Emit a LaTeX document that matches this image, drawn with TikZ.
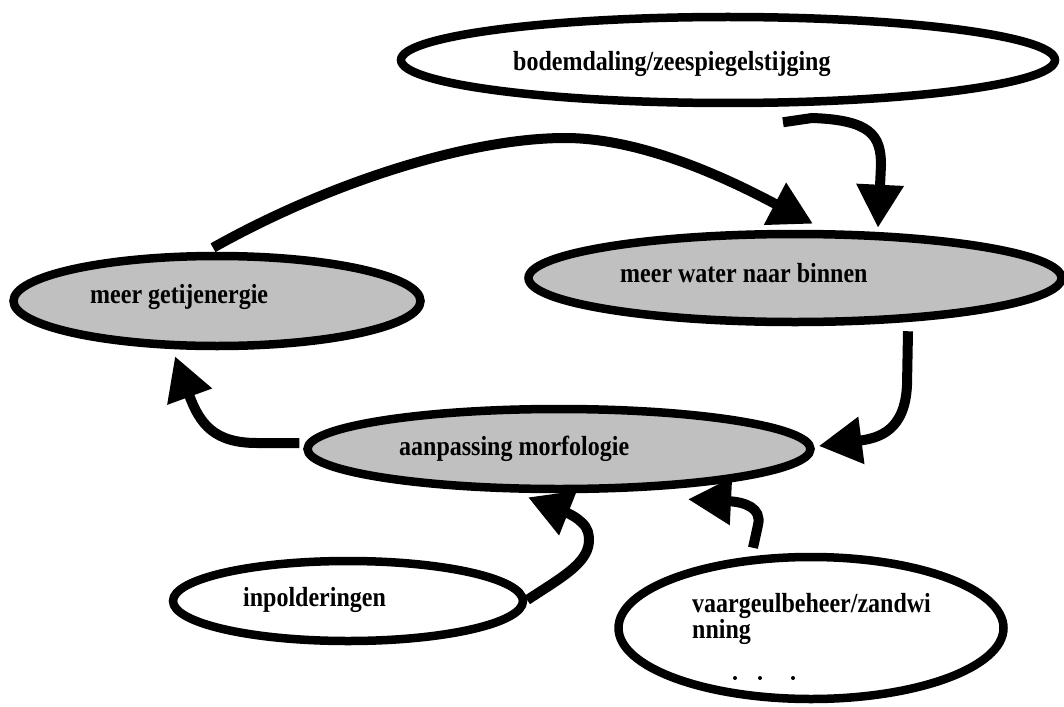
\documentclass[tikz,border=0pt]{standalone}
\usepackage{fontspec}
\setmainfont{Liberation Serif}
\usetikzlibrary{shapes.geometric,arrows.meta}
\definecolor{fillgray}{RGB}{192,192,192}
\newcommand{\stretchtxt}[1]{\scalebox{1}[1.15]{#1}}
\begin{document}
\begin{tikzpicture}[x=1pt,y=-1pt,
  wbox/.style={ellipse, draw, line width=8.5pt, inner sep=0pt, fill=white},
  gbox/.style={wbox, fill=fillgray},
  txt/.style={anchor=base west, inner sep=0pt, font=\bfseries\fontsize{24}{22.6}\selectfont},
  conn/.style={line width=10pt, -{Triangle[length=43pt,width=45pt]}}
]
\useasboundingbox (0,0) rectangle (1064,706);

\node[wbox, minimum width=654pt, minimum height=86pt] (bod) at (728,60) {};
\node[gbox, minimum width=533pt, minimum height=88pt] (water) at (795,278) {};
\node[gbox, minimum width=407pt, minimum height=90pt] (getij) at (217,301) {};
\node[gbox, minimum width=503pt, minimum height=80pt] (morf) at (559,449) {};
\node[wbox, minimum width=350pt, minimum height=80pt] (inpol) at (348,601) {};
\node[wbox, minimum width=385pt, minimum height=142pt] (vaar) at (811,628) {};

\node[txt] (tbod) at (513,71) {\stretchtxt{bodemdaling/zeespiegelstijging}};
\node[txt] (twater) at (620,282) {\stretchtxt{meer water naar binnen}};
\node[txt] (tgetij) at (90,303) {\stretchtxt{meer getijenergie}};
\node[txt] (tmorf) at (399,455) {\stretchtxt{aanpassing morfologie}};
\node[txt] (tinpol) at (243,606) {\stretchtxt{inpolderingen}};
\node[txt] (tvaar1) at (692,612) {\stretchtxt{vaargeulbeheer/zandwi}};
\node[txt] (tvaar2) at (692,638) {\stretchtxt{nning}};

\fill (735,678) circle (2pt);
\fill (760,678) circle (2pt);
\fill (793,678) circle (2pt);

% bodemdaling -> meer water
\draw[conn] ([shift={(55,15)}]bod.south) -- (812,118)
  .. controls (870,120) and (881,135) .. (881,165)
  -- ([shift={(83,-2)}]water.north);
% getijenergie -> meer water
\draw[conn] ([shift={(-4,-4)}]getij.north)
  .. controls (330,182) and (470,138) .. (565,138)
  .. controls (650,138) and (745,188) .. ([shift={(18,-6)}]water.north);
% meer water -> morfologie
\draw[conn] ([shift={(113,5)}]water.south) -- (907,385)
  .. controls (905,430) and (880,438) .. ([shift={(4,-3)}]morf.east);
% morfologie -> getijenergie
\draw[conn] ([shift={(-4,-6)}]morf.west) -- (257,443)
  .. controls (215,443) and (200,425) .. ([shift={(-42,6)}]getij.south);
% inpolderingen -> morfologie
\draw[conn] ([shift={(0,-1)}]inpol.east)
  .. controls (565,575) and (595,560) .. (588,532)
  .. controls (584,518) and (560,510) .. ([shift={(-31,4)}]morf.south);
% vaargeul -> morfologie
\draw[conn] ([shift={(-58,-5)}]vaar.north) -- (758,525)
  .. controls (762,508) and (745,502) .. ([shift={(129,6)}]morf.south);
\end{tikzpicture}
\end{document}
